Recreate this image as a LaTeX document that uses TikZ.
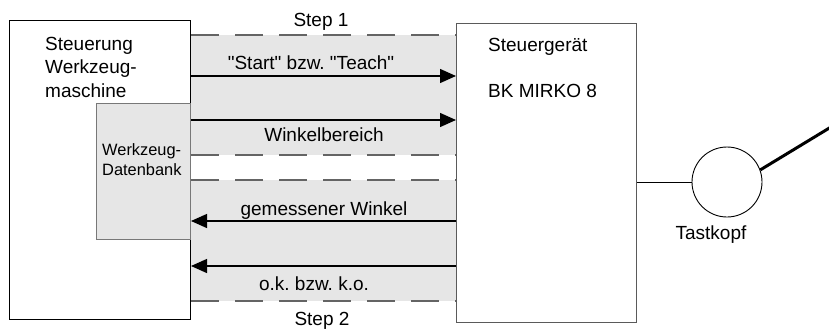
\documentclass[tikz,border=0pt]{standalone}
\usepackage{fontspec}
\setmainfont{Liberation Sans}
\usetikzlibrary{arrows.meta}
\definecolor{bandgray}{RGB}{230,230,230}
\definecolor{dashgray}{RGB}{100,100,100}
\definecolor{boxgray}{RGB}{90,90,90}
\definecolor{dbgray}{RGB}{120,120,120}
\tikzset{
  lbl/.style={font=\fontsize{19}{22}\selectfont, anchor=base, inner sep=0pt},
  lblw/.style={font=\fontsize{19}{22}\selectfont, anchor=base west, inner sep=0pt},
  smalllbl/.style={font=\fontsize{16.4}{19}\selectfont, anchor=base west, inner sep=0pt},
  bandline/.style={draw=dashgray, line width=1.5pt, dash pattern=on 28pt off 16pt},
  msg/.style={line width=1.3pt, -{Triangle[length=16pt,width=14pt]}},
  band/.style={fill=bandgray, draw=none},
}
\frenchspacing
\begin{document}
\begin{tikzpicture}[x=1pt,y=-1pt]
\useasboundingbox (0,0) rectangle (829,329);
% bands
\fill[bandgray] (190,35) rectangle (456,155);
\fill[bandgray] (190,180) rectangle (456,301);
% boxes
\node[draw=black, line width=1pt, fill=white, minimum width=181pt, minimum height=299pt, inner sep=0pt, anchor=north west] (ctrl) at (9,20) {};
\node[draw=dbgray, line width=1pt, fill=bandgray, minimum width=94pt, minimum height=136pt, inner sep=0pt, anchor=north west] (db) at (96,103) {};
\node[draw=boxgray, line width=1pt, fill=white, minimum width=180pt, minimum height=299pt, inner sep=0pt, anchor=north west] (geraet) at (456,23) {};
% dashed band edges
\draw[bandline] (ctrl.east |- 0,35) -- (geraet.west |- 0,35);
\draw[bandline] (ctrl.east |- 0,155) -- (geraet.west |- 0,155);
\draw[bandline] (ctrl.east |- 0,180) -- (geraet.west |- 0,180);
\draw[bandline] (ctrl.east |- 0,301) -- (geraet.west |- 0,301);
% messages
\draw[msg] (ctrl.east |- 0,76) -- (geraet.west |- 0,76);
\draw[msg] (ctrl.east |- 0,120) -- (geraet.west |- 0,120);
\draw[msg] (geraet.west |- 0,221) -- (ctrl.east |- 0,221);
\draw[msg] (geraet.west |- 0,266) -- (ctrl.east |- 0,266);
% labels
\node[lbl] (s1) at (321,27) {Step 1};
\node[lbl] (m1) at (311,70) {\textquotedbl Start\textquotedbl{} bzw. \textquotedbl Teach\textquotedbl};
\node[lbl] (m2) at (324,141) {Winkelbereich};
\node[lbl] (m3) at (324,215) {gemessener Winkel};
\node[lbl] (m4) at (314,290) {o.k. bzw. k.o.};
\node[lbl] (s2) at (322,325) {Step 2};
\node[lblw] (t1) at (45,51) {Steuerung};
\node[lblw] (t2) at (45,74) {Werkzeug-};
\node[lblw] (t3) at (45,97) {maschine};
\node[smalllbl] (d1) at (102,155) {Werkzeug-};
\node[smalllbl] (d2) at (102,175) {Datenbank};
\node[lblw] (g1) at (488,52) {Steuergerät};
\node[lblw] (g2) at (488,97) {BK MIRKO 8};
% probe
\node[draw=black, line width=0.9pt, circle, minimum size=70pt, inner sep=0pt] (tk) at (727,182) {};
\node[lbl] (tkl) at (711,239) {Tastkopf};
\draw[line width=1pt] (geraet.east |- tk.west) -- (tk.west);
\coordinate (tip) at (831,127);
\draw[line width=3pt] (tk.20) -- (tip);
\end{tikzpicture}
\end{document}
